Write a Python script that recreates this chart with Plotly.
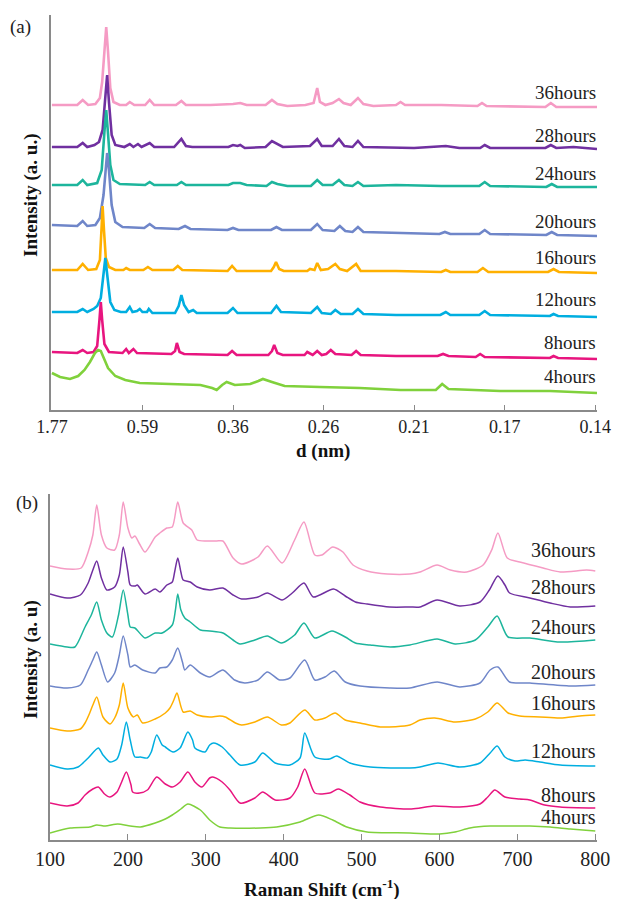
import plotly.graph_objects as go

labels = ["36hours", "28hours", "24hours", "20hours", "16hours", "12hours", "8hours", "4hours"]
colors = ["#F59BC4", "#7030A0", "#1DB59C", "#6F86C9", "#FFB000", "#00AEE0", "#E8157F", "#80D13C"]

# ---------- Panel (a): diffraction, x in 2-theta (deg), labelled by d (nm) ----------
d_tickvals = [5, 15, 25, 35, 45, 55, 65]
d_ticktext = ["1.77", "0.59", "0.36", "0.26", "0.21", "0.17", "0.14"]

xrd_36h = [(5.0,305),(7.8,305),(8.4,310),(9.0,305),(9.8,306),(10.3,312),(10.55,328),(10.8,362),(11.0,383),(11.2,358),(11.45,322),(11.8,308),(12.5,305),(13.2,305),(13.6,308),(14.1,305),(15.3,305),(15.8,310),(16.3,305),(18.7,305),(19.3,309),(19.8,305),(22.5,305),(25.0,306),(25.8,307),(26.5,305),(28.6,305),(29.3,310),(29.9,306),(31.0,304),(33.0,305),(33.9,307),(34.3,322),(34.6,308),(35.2,305),(36.0,307),(36.7,311),(37.2,307),(38.0,305),(38.8,312),(39.4,306),(40.5,304),(43.0,305),(43.5,308),(44.0,305),(48.0,305),(52.0,304),(52.5,307),(53.0,304),(59.5,303),(60.1,307),(60.7,303),(65.2,303)]
xrd_28h = [(5.0,263),(7.8,263),(8.4,267),(8.9,263),(9.7,265),(10.2,268),(10.6,280),(10.9,315),(11.1,335),(11.3,308),(11.6,275),(12.0,265),(13.0,263),(13.6,266),(14.0,263),(14.5,266),(14.9,263),(15.8,267),(16.3,263),(18.5,263),(19.0,268),(19.3,271),(19.8,264),(20.5,263),(24.5,263),(25.0,265),(25.5,264),(25.8,265),(26.3,262),(28.6,263),(29.3,269),(29.9,266),(30.5,263),(33.5,264),(34.3,271),(34.8,264),(36.0,264),(36.7,271),(37.3,264),(38.2,263),(38.8,269),(39.4,263),(45.0,262),(48.5,264),(50.0,262),(52.3,262),(52.8,265),(53.4,262),(59.5,262),(60.1,265),(60.7,262),(62.6,263),(65.2,261)]
xrd_24h = [(5.0,225),(7.8,225),(8.4,230),(8.9,225),(10.0,227),(10.5,240),(10.8,278),(11.0,300),(11.2,276),(11.45,245),(11.8,230),(12.5,226),(15.3,225),(15.8,228),(16.3,225),(18.8,225),(19.3,228),(19.8,225),(24.5,225),(25.0,227),(25.8,227),(26.5,225),(28.7,224),(29.3,228),(29.9,226),(31.0,224),(33.6,224),(34.3,230),(34.9,225),(36.0,225),(36.7,230),(37.3,225),(38.2,224),(38.8,228),(39.4,224),(43.0,225),(48.0,224),(52.2,224),(52.8,228),(53.4,224),(59.6,223),(60.2,226),(60.8,223),(65.2,223)]
xrd_20h = [(5.0,185),(7.8,184),(8.4,189),(8.9,184),(9.8,185),(10.3,192),(10.7,215),(11.0,250),(11.1,257),(11.3,240),(11.6,205),(12.0,188),(12.8,183),(15.2,182),(15.8,186),(16.4,182),(19.0,181),(19.7,184),(20.3,181),(24.4,180),(25.0,182),(25.6,180),(29.2,180),(29.8,183),(30.4,180),(33.6,180),(34.3,186),(34.9,180),(36.2,179),(36.8,184),(37.4,179),(38.2,178),(38.8,183),(39.4,178),(43.0,177),(47.8,176),(48.4,178),(49.0,176),(52.2,176),(52.8,180),(53.4,176),(59.6,175),(60.2,178),(60.8,175),(65.2,174)]
xrd_16h = [(5.0,140),(7.8,140),(8.4,146),(9.0,140),(9.9,141),(10.3,150),(10.5,185),(10.6,204),(10.75,180),(10.95,152),(11.3,143),(12.0,140),(12.9,140),(13.2,142),(13.6,140),(15.1,140),(15.6,143),(16.1,140),(18.4,140),(18.9,144),(19.4,140),(24.4,139),(24.9,144),(25.4,139),(29.2,139),(29.5,143),(29.75,148),(30.1,141),(30.6,139),(33.2,139),(33.5,141),(34.0,140),(34.3,147),(34.7,140),(35.5,141),(35.8,143),(36.3,146),(36.8,141),(37.6,139),(38.6,146),(39.1,139),(43.0,139),(48.0,138),(48.5,140),(49.0,138),(52.0,138),(52.6,142),(53.2,138),(59.8,138),(60.4,141),(61.0,138),(65.2,137)]
xrd_12h = [(5.0,98),(7.8,98),(8.4,101),(8.9,98),(9.6,101),(10.0,104),(10.4,112),(10.65,133),(10.9,152),(11.15,132),(11.45,108),(11.9,100),(12.6,98),(13.2,98),(13.6,103),(13.9,98),(14.4,99),(14.7,101),(15.0,98),(15.5,98),(15.7,101),(16.1,97),(18.6,97),(19.0,104),(19.3,115),(19.6,105),(20.1,98),(20.6,100),(21.0,97),(24.4,97),(25.0,102),(25.5,97),(29.2,97),(29.8,104),(30.3,98),(33.6,97),(34.3,103),(34.8,97),(35.8,96),(36.3,100),(36.9,96),(38.2,96),(38.8,101),(39.4,96),(43.0,95),(47.9,95),(48.5,98),(49.0,95),(52.2,95),(52.8,99),(53.4,95),(60.0,94),(60.4,96),(60.9,94),(65.2,93)]
xrd_8h = [(5.0,58),(7.8,57),(8.4,60),(8.9,57),(9.6,58),(10.0,64),(10.25,90),(10.4,108),(10.55,90),(10.8,66),(11.3,58),(12.8,57),(13.2,61),(13.5,57),(14.0,61),(14.4,57),(18.2,56),(18.6,59),(18.8,67),(19.1,58),(19.6,56),(24.4,55),(24.9,59),(25.4,55),(28.9,55),(29.3,59),(29.55,65),(29.9,57),(30.5,55),(32.9,55),(33.2,58),(33.8,55),(34.3,59),(34.8,55),(35.3,56),(35.8,60),(36.3,56),(38.1,55),(38.6,59),(39.1,55),(43.0,54),(47.6,54),(48.2,56),(48.8,54),(51.8,53),(52.3,56),(52.8,53),(60.0,52),(60.4,54),(60.9,52),(65.2,51)]
xrd_4h = [(5.0,37),(5.9,33),(7.0,31),(7.9,34),(8.6,40),(9.2,48),(9.75,57),(10.1,60),(10.4,59),(10.75,52),(11.2,42),(12.0,34),(13.1,30),(14.7,27),(18.0,26),(21.4,25),(22.7,22),(23.2,20),(23.8,25),(24.3,28),(25.2,25),(26.9,26),(27.8,29),(28.3,31),(29.3,28),(30.7,24),(34.6,23),(39.0,22),(43.5,20),(47.4,20),(48.1,26),(48.8,21),(54.5,19),(60.0,19),(65.2,17)]

# ---------- Panel (b): Raman spectra ----------
raman_ticks = [100, 200, 300, 400, 500, 600, 700, 800]

raman_36h = [(100,274),(122,271),(140,272),(149,288),(155,305),(160,335),(166,305),(173,292),(183,290),(189,305),(194,338),(200,312),(205,302),(209,304),(215,296),(222,288),(235,303),(241,307),(250,312),(257,313),(264,338),(271,317),(282,310),(289,300),(301,299),(314,299),(322,299),(335,282),(346,276),(367,283),(379,294),(398,277),(414,300),(426,318),(440,285),(449,285),(463,293),(476,288),(489,275),(507,269),(533,266),(562,266),(575,268),(597,275),(614,270),(635,268),(656,275),(667,290),(675,307),(687,282),(703,278),(733,272),(755,268),(789,270),(800,269)]
raman_28h = [(100,246),(122,242),(139,245),(149,257),(155,270),(160,279),(166,262),(173,250),(183,253),(189,265),(194,293),(200,268),(203,255),(209,254),(212,255),(222,246),(235,251),(241,248),(250,255),(257,258),(260,268),(264,282),(268,268),(271,260),(280,258),(289,253),(305,250),(322,252),(335,245),(346,241),(367,243),(379,247),(398,240),(411,247),(426,257),(438,243),(464,251),(479,244),(492,238),(507,236),(536,233),(562,233),(575,233),(597,240),(626,234),(652,238),(664,250),(675,264),(684,255),(690,247),(716,242),(742,237),(768,233),(800,234)]
raman_24h = [(100,196),(122,193),(132,193),(145,213),(153,225),(160,238),(166,220),(173,207),(180,203),(188,225),(194,250),(200,225),(203,213),(209,212),(222,202),(235,207),(244,207),(257,215),(261,230),(264,246),(268,230),(273,222),(280,218),(293,210),(305,209),(322,207),(335,200),(344,196),(363,200),(379,204),(397,197),(414,205),(426,217),(440,202),(462,209),(479,203),(492,197),(511,195),(537,193),(562,195),(597,201),(620,196),(646,200),(662,213),(674,224),(688,203),(716,202),(755,198),(800,200)]
raman_20h = [(100,154),(122,152),(139,155),(149,170),(155,180),(160,188),(166,175),(174,158),(183,167),(189,185),(194,204),(200,185),(203,173),(209,175),(219,170),(235,167),(241,172),(250,173),(257,180),(264,192),(270,178),(273,170),(280,175),(293,167),(305,163),(322,170),(337,160),(350,157),(367,160),(379,168),(395,160),(408,162),(427,180),(440,160),(453,163),(465,169),(479,158),(498,154),(536,152),(562,152),(597,158),(626,153),(652,157),(665,170),(675,173),(690,158),(716,157),(768,154),(800,155)]
raman_16h = [(100,112),(122,109),(139,111),(145,117),(151,127),(155,135),(160,143),(168,123),(177,116),(183,122),(189,135),(194,157),(200,132),(207,123),(212,125),(219,117),(235,121),(248,127),(254,132),(259,140),(263,147),(271,128),(280,129),(289,125),(305,123),(318,124),(325,123),(338,117),(346,115),(363,118),(379,123),(397,115),(408,117),(427,130),(440,120),(453,122),(466,127),(479,120),(498,117),(524,113),(562,115),(575,120),(594,122),(620,118),(646,121),(662,128),(674,137),(688,127),(703,124),(729,123),(755,122),(780,124),(800,125)]
raman_12h = [(100,75),(122,71),(136,73),(149,82),(162,92),(168,85),(177,78),(186,81),(192,95),(198,118),(203,100),(209,83),(216,83),(225,82),(230,88),(237,105),(244,95),(248,93),(258,88),(267,92),(277,108),(283,100),(286,92),(299,88),(305,95),(310,97),(321,93),(331,85),(344,75),(363,78),(373,87),(389,77),(408,75),(421,82),(427,107),(440,83),(459,81),(468,84),(485,77),(511,73),(562,72),(575,73),(598,77),(626,73),(652,77),(665,87),(674,94),(684,83),(697,79),(710,80),(729,78),(755,75),(800,74)]
raman_8h = [(100,37),(122,34),(136,37),(145,45),(155,51),(162,53),(170,46),(177,43),(186,48),(192,58),(198,68),(204,55),(206,48),(215,47),(225,50),(237,63),(248,56),(257,53),(267,58),(277,68),(286,58),(295,53),(305,62),(309,63),(321,58),(331,50),(344,37),(363,42),(373,48),(389,40),(408,42),(418,53),(427,71),(440,47),(459,47),(470,51),(485,45),(498,38),(524,33),(562,31),(575,32),(592,34),(626,33),(652,36),(662,43),(671,50),(684,43),(703,41),(716,40),(735,35),(755,33),(800,32)]
raman_4h = [(100,7),(126,12),(151,13),(160,15),(171,14),(187,16),(203,14),(216,13),(235,17),(248,21),(257,25),(268,31),(277,36),(293,30),(305,20),(318,13),(331,12),(370,12),(391,13),(421,18),(445,25),(463,20),(481,13),(507,8),(562,7),(600,6),(620,8),(639,12),(665,14),(697,14),(716,14),(742,13),(768,11),(800,9)]

xrd_series = [xrd_36h, xrd_28h, xrd_24h, xrd_20h, xrd_16h, xrd_12h, xrd_8h, xrd_4h]
raman_series = [raman_36h, raman_28h, raman_24h, raman_20h, raman_16h, raman_12h, raman_8h, raman_4h]

W, H = 617, 899
def px_x(p): return p / W
def px_y(p): return 1 - p / H

fig = go.Figure()
for pts, c, name in zip(xrd_series, colors, labels):
    fig.add_trace(go.Scatter(x=[p[0] for p in pts], y=[p[1] for p in pts], mode="lines",
                             line=dict(color=c, width=2.6), name=name,
                             xaxis="x", yaxis="y", showlegend=False))
for pts, c, name in zip(raman_series, colors, labels):
    fig.add_trace(go.Scatter(x=[p[0] for p in pts], y=[p[1] for p in pts], mode="lines",
                             line=dict(color=c, width=1.5, shape="spline", smoothing=0.7), name=name,
                             xaxis="x2", yaxis="y2", showlegend=False))

axcol = "#8a8a8a"
tickfont_a = dict(family="Liberation Serif, serif", size=18, color="#222")
tickfont_b = dict(family="Liberation Serif, serif", size=20, color="#222")

fig.update_layout(
    width=W, height=H, margin=dict(l=0, r=0, t=0, b=0, autoexpand=False),
    paper_bgcolor="white", plot_bgcolor="white", showlegend=False,
    xaxis=dict(domain=[px_x(51), px_x(597)], range=[4.9, 65.2], anchor="y", automargin=False,
               tickvals=d_tickvals, ticktext=d_ticktext, ticks="inside", ticklen=5,
               tickcolor=axcol, showline=True, linecolor=axcol, linewidth=1.5,
               showgrid=False, zeroline=False, tickfont=tickfont_a),
    yaxis=dict(domain=[px_y(410), px_y(15)], range=[0, 395], anchor="x", automargin=False,
               showticklabels=False, ticks="", showline=True, linecolor=axcol,
               linewidth=1.5, showgrid=False, zeroline=False),
    xaxis2=dict(domain=[px_x(50), px_x(597)], range=[100, 802.2], anchor="y2", automargin=False,
                tickvals=raman_ticks, ticks="inside", ticklen=6,
                tickcolor=axcol, showline=True, linecolor=axcol, linewidth=1.5,
                showgrid=False, zeroline=False, tickfont=tickfont_b),
    yaxis2=dict(domain=[px_y(840), px_y(494)], range=[0, 346], anchor="x2", automargin=False,
                showticklabels=False, ticks="", showline=True, linecolor=axcol,
                linewidth=1.5, showgrid=False, zeroline=False),
)

ann = []
lab_a_y = [92, 135, 173, 222, 258, 299, 343, 376]
lab_b_y = [550, 587, 627, 672, 703, 751, 795, 817]
for t, ya, yb in zip(labels, lab_a_y, lab_b_y):
    ann.append(dict(text=t, x=px_x(598), y=px_y(ya), xref="paper", yref="paper",
                    xanchor="right", yanchor="middle", showarrow=False,
                    font=dict(family="Liberation Serif, serif", size=19, color="#222")))
    ann.append(dict(text=t, x=px_x(598), y=px_y(yb), xref="paper", yref="paper",
                    xanchor="right", yanchor="middle", showarrow=False,
                    font=dict(family="Liberation Serif, serif", size=20, color="#222")))

titlefont = dict(family="Liberation Serif, serif", size=19, color="#111")
ann += [
    dict(text="(a)", x=px_x(8), y=px_y(27), xref="paper", yref="paper", xanchor="left",
         yanchor="middle", showarrow=False, font=dict(family="Liberation Serif, serif", size=19, color="#222")),
    dict(text="(b)", x=px_x(14), y=px_y(503), xref="paper", yref="paper", xanchor="left",
         yanchor="middle", showarrow=False, font=dict(family="Liberation Serif, serif", size=19, color="#222")),
    dict(text="<b>Intensity (a. u.)</b>", x=px_x(31), y=px_y(195), xref="paper", yref="paper",
         xanchor="center", yanchor="middle", textangle=-90, showarrow=False, font=titlefont),
    dict(text="<b>Intensity (a. u)</b>", x=px_x(31), y=px_y(660), xref="paper", yref="paper",
         xanchor="center", yanchor="middle", textangle=-90, showarrow=False, font=titlefont),
    dict(text="<b>d (nm)</b>", x=px_x(323), y=px_y(451), xref="paper", yref="paper",
         xanchor="center", yanchor="middle", showarrow=False, font=titlefont),
    dict(text="<b>Raman Shift (cm<sup>-1</sup>)</b>", x=px_x(322), y=px_y(888), xref="paper", yref="paper",
         xanchor="center", yanchor="middle", showarrow=False, font=titlefont),
]
fig.update_layout(annotations=ann)

fig.write_html("out.html")
